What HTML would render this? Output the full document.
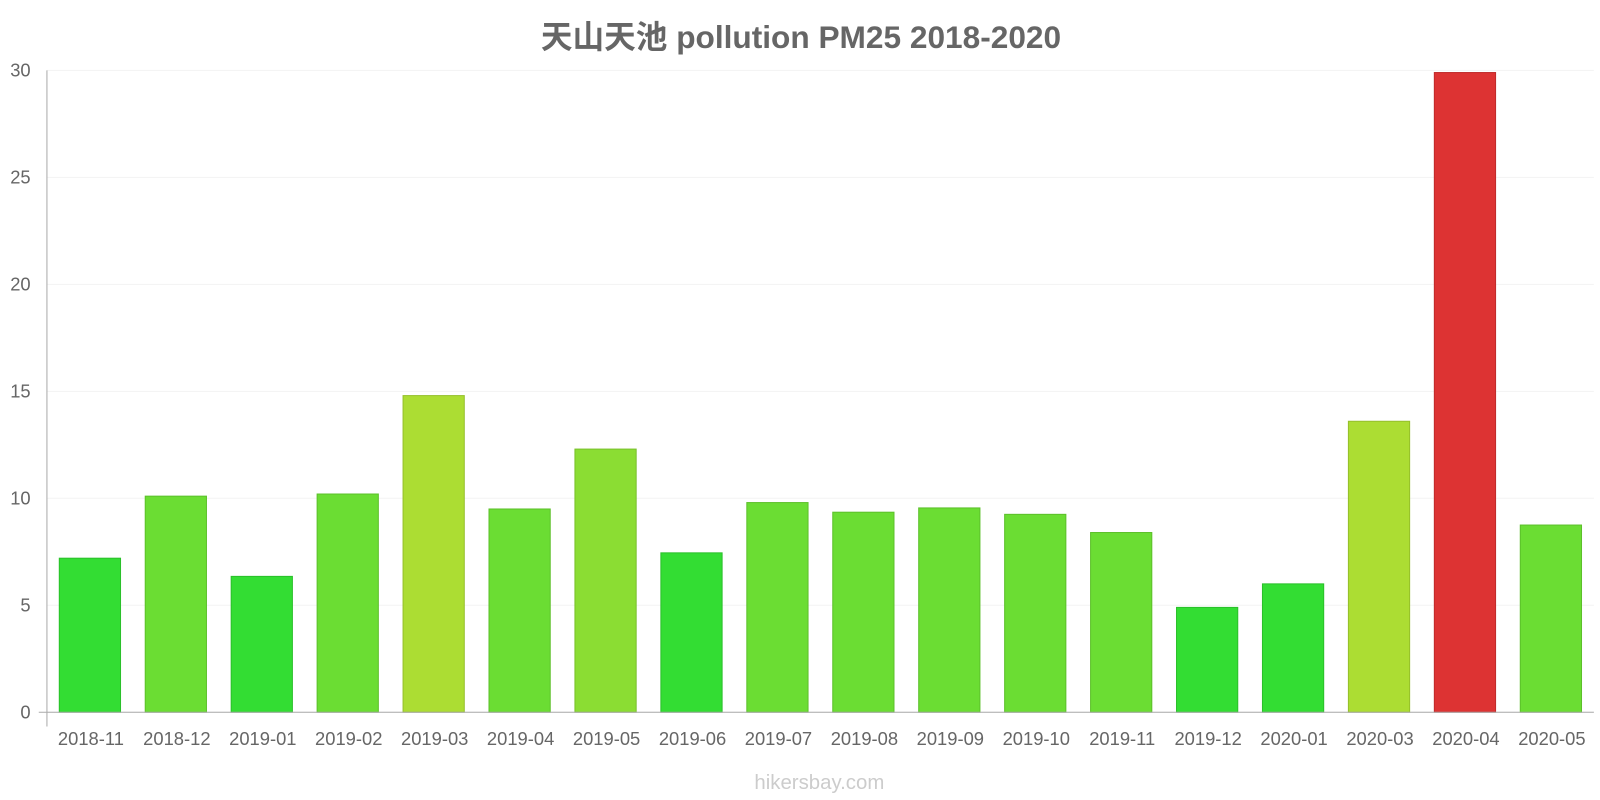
<!DOCTYPE html>
<html><head><meta charset="utf-8"><style>
html,body{margin:0;padding:0;background:#fff;width:1600px;height:800px;overflow:hidden}
svg{font-family:"Liberation Sans","Noto Sans CJK SC",sans-serif}
</style></head><body>
<svg id="chart" width="1600" height="800">
<g transform="scale(1.0204)">
<text x="785" y="47" text-anchor="middle" font-size="31" font-weight="bold" fill="#666">天山天池 pollution PM25 2018-2020</text>
<text x="803" y="773" text-anchor="middle" font-size="20" fill="#ccc">hikersbay.com</text>
<g id="grid"></g><g id="bars"></g><g id="axes"></g>
</g>
</svg>
<script>
const categories=["2018-11","2018-12","2019-01","2019-02","2019-03","2019-04","2019-05","2019-06","2019-07","2019-08","2019-09","2019-10","2019-11","2019-12","2020-01","2020-03","2020-04","2020-05"];
const values=[7.2,10.1,6.35,10.2,14.8,9.5,12.3,7.45,9.8,9.35,9.55,9.25,8.4,4.9,6.0,13.6,29.9,8.75];
const yTicks=[0,5,10,15,20,25,30];
const NS="http://www.w3.org/2000/svg";
const x0=46,x1=1562,y0=698,y1=69,yMax=30;
const band=(x1-x0)/categories.length;
const xc=i=>x0+band*(i+0.5);
const y=v=>y0-(v/yMax)*(y0-y1);
function mk(t,a,p){const e=document.createElementNS(NS,t);for(const k in a)e.setAttribute(k,a[k]);p.appendChild(e);return e;}
function color(v){if(v>=20)return["#dd3333","#c02a2a"];if(v>=13)return["#acdd33","#95c02a"];if(v>=11)return["#8bdd33","#78c02a"];if(v>=8)return["#6bdd33","#5cc02a"];return["#33dd33","#2ac02a"];}
const g=document.getElementById('grid'),b=document.getElementById('bars'),ax=document.getElementById('axes');
yTicks.forEach(t=>{
 const l=mk('line',{x1:x0,x2:x1,y1:y(t),y2:y(t),stroke:'#f3f3f3','stroke-width':1},g);
 
 
 const tx=mk('text',{x:30,y:y(t)+6,'text-anchor':'end','font-size':18,fill:'#666'},ax);
 tx.textContent=t;
 
 
});
categories.forEach((c,i)=>{
 const [f,s]=color(values[i]);
 const r=mk('rect',{x:xc(i)-30,y:y(values[i]),width:60,height:y0-y(values[i]),fill:f,stroke:s,'stroke-width':1},b);
 
 
 const tx=mk('text',{x:xc(i)+1,y:730,'text-anchor':'middle','font-size':18,fill:'#666'},ax);
 tx.textContent=c;
 
 
});
const ya=mk('line',{x1:x0,x2:x0,y1:y1,y2:712,stroke:'#aaa','stroke-width':1},ax);


const xa=mk('line',{x1:38,x2:x1,y1:y0,y2:y0,stroke:'#aaa','stroke-width':1},ax);


</script>
</body></html>
